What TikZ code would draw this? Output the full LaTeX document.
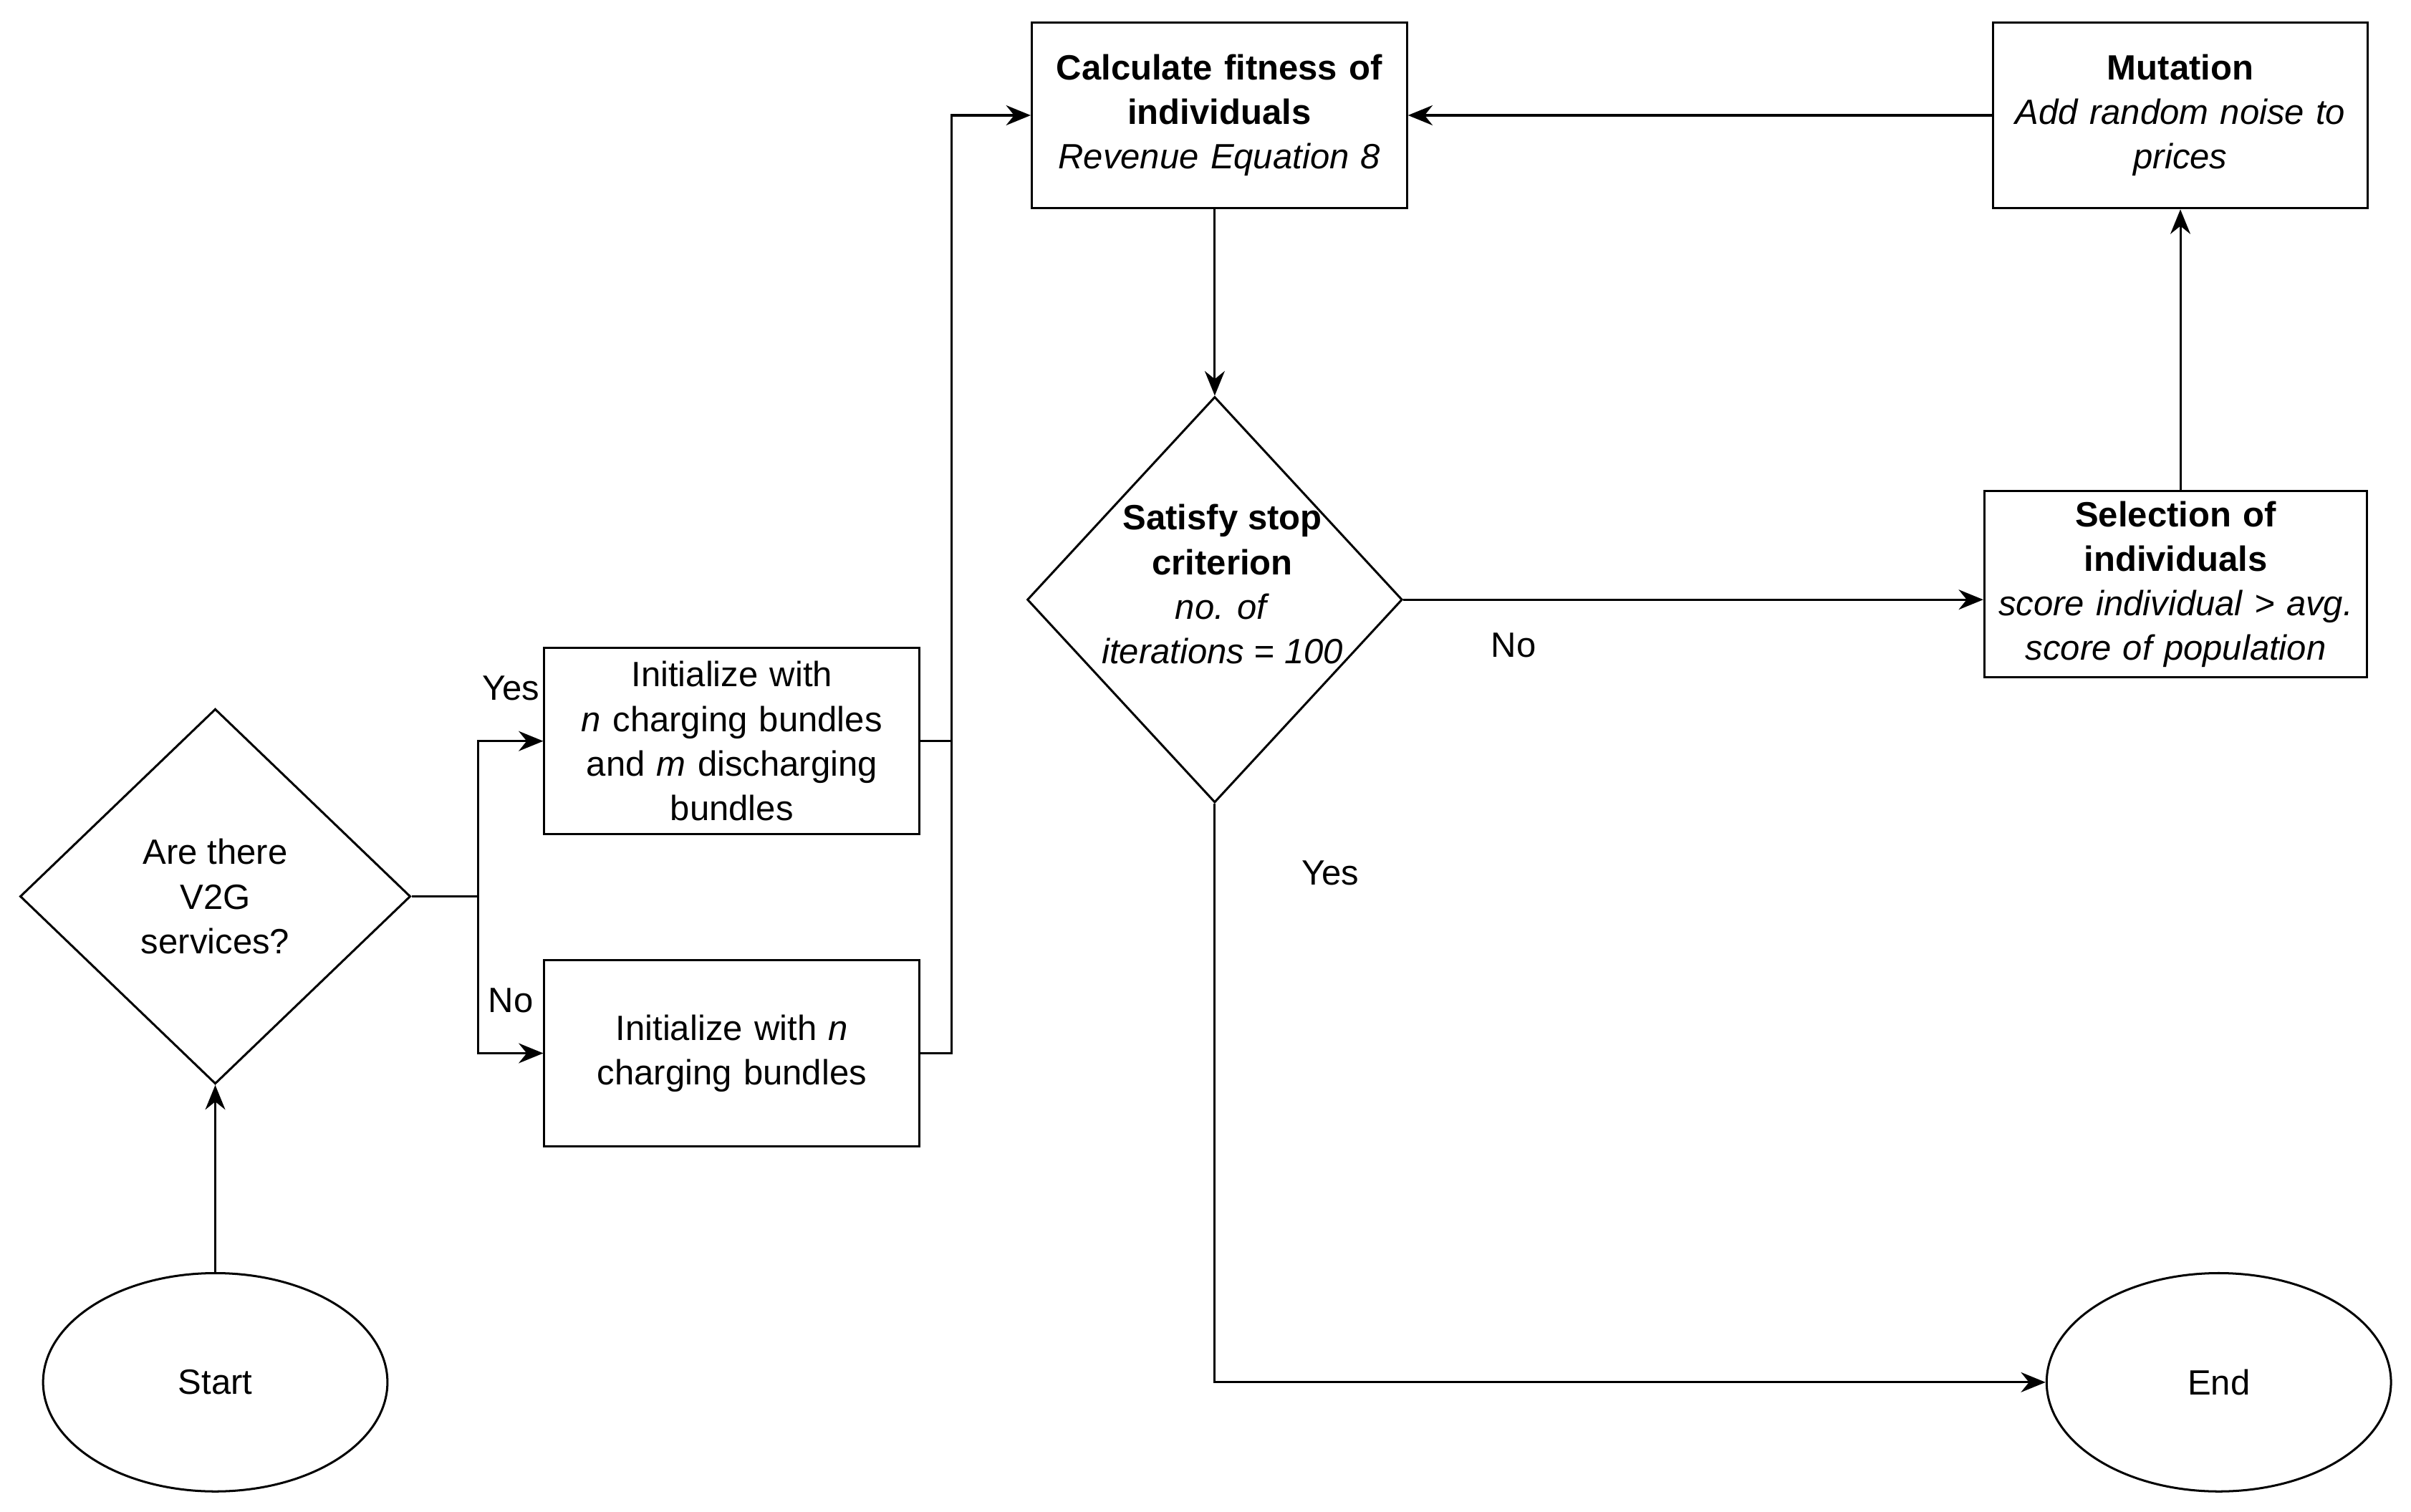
\documentclass[tikz,border=0pt]{standalone}
\usepackage{fontspec}
\setmainfont{Liberation Sans}
\usetikzlibrary{shapes.geometric,arrows.meta,positioning}
\begin{document}
\begin{tikzpicture}[%
    x=0.02cm, y=-0.02cm,
    >={Stealth[length=3.2mm,width=2.6mm]},
    font=\fontsize{13}{16.5}\selectfont,
    ]
% -------------------------------------------------
% Box styles
\tikzset{
  base/.style={draw, thick, align=center, inner sep=2pt},
  procbox/.style={base, rectangle, minimum width=4.88cm, minimum height=2.42cm, text width=4.7cm},
  term/.style={base, ellipse, minimum width=4.48cm, minimum height=2.84cm},
  cond/.style={base, diamond, aspect=1},
  norm/.style={->, draw, thick, black},
  txt/.style={draw=none, fill=none}
  }
\useasboundingbox (0,0) rectangle (1568,983);
% -------------------------------------------------
% Start by placing the nodes
\node [term] (st) at (140,899) {Start};
\node [cond, minimum width=5.08cm, minimum height=4.88cm] (q1) at (140,583) {};
\node [txt, align=center] at (140,583) {Are there\\V2G\\services?};

\node [procbox] (b1) at (476,482) {Initialize with\\\textit{n} charging bundles\\and \textit{m} discharging\\bundles};
\node [procbox] (b2) at (476,685) {Initialize with \textit{n}\\charging bundles};

\node [procbox] (fit) at (793,75) {\textbf{Calculate fitness of}\\\textbf{individuals}\\\textit{Revenue Equation 8}};
\node [cond, minimum width=4.88cm, minimum height=5.28cm] (q2) at (790,390) {};
\node [txt, align=center] at (795,380) {\textbf{Satisfy stop}\\\textbf{criterion}\\\textit{no. of}\\\textit{iterations = 100}};

\node [procbox, minimum width=4.98cm] (sel) at (1415,380) {\textbf{Selection of}\\\textbf{individuals}\\\textit{score individual > avg.}\\\textit{score of population}};
\node [procbox] (mut) at (1418,75) {\textbf{Mutation}\\\textit{Add random noise to}\\\textit{prices}};
\node [term] (en) at (1443,899) {End};

\coordinate (j1) at (311,583);
\coordinate (j2) at (619,482);
% -------------------------------------------------
% Connectors
\draw [norm] (st) -- (q1);
\draw [norm] (q1.east) -- (j1) |- (b1.west) node[pos=0.75, above=4mm, txt] {Yes};
\draw [norm] (j1) |- (b2.west) node[pos=0.75, above=4mm, txt] {No};
\draw [thick] (b1.east) -- (j2);
\draw [thick] (b2.east) -| (j2);
\draw [norm] (j2) |- (fit.west);
\draw [norm] (fit.south -| q2.north) -- (q2.north);
\draw [norm] (q2.east) -- (sel.west |- q2.east) node[pos=0.19, below=3mm, txt] {No};
\draw [norm] (q2.south) |- (en.west) node[pos=0.06, right=10mm, txt] {Yes};
\draw [norm] (sel.north -| mut.south) -- (mut.south);
\draw [norm] (mut.west) -- (fit.east);
\end{tikzpicture}
\end{document}
